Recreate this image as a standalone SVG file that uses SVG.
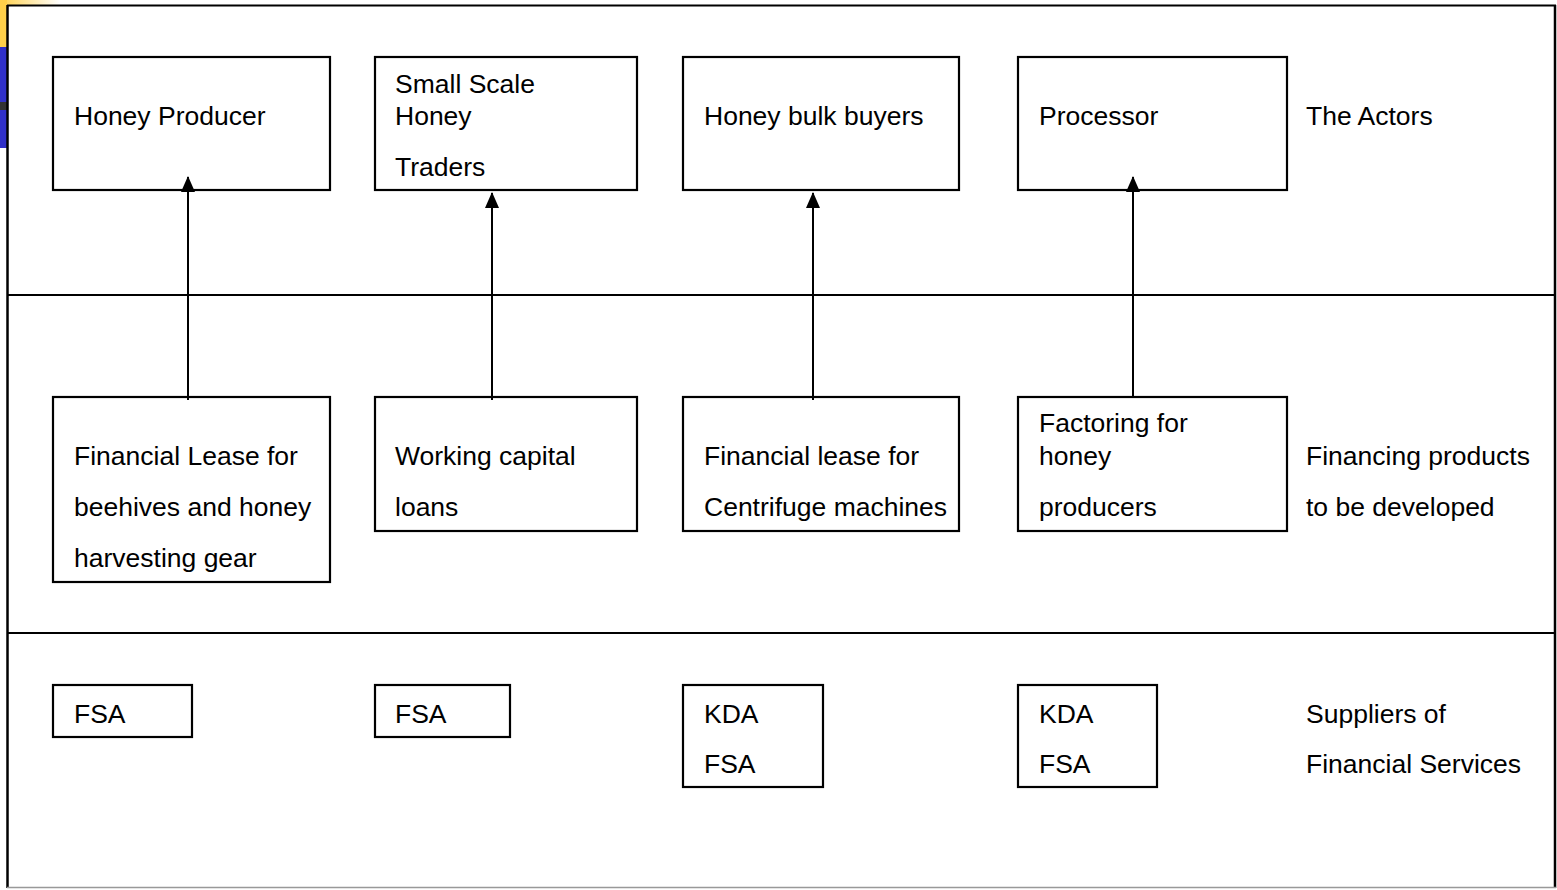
<svg xmlns="http://www.w3.org/2000/svg" width="1557" height="890" viewBox="0 0 1557 890">
  <defs>
    <linearGradient id="topFade" x1="0" y1="0" x2="1" y2="0">
      <stop offset="0" stop-color="#ffd04a"/>
      <stop offset="1" stop-color="#ffffff"/>
    </linearGradient>
    <marker id="arrow" markerWidth="16" markerHeight="14" refX="15" refY="7" orient="auto" markerUnits="userSpaceOnUse" viewBox="0 0 16 14">
      <path d="M0,0 L16,7 L0,14 Z" fill="#000"/>
    </marker>
  </defs>
  <style>
    .box { fill: #fff; stroke: #000; stroke-width: 2.2; }
    .rule { stroke: #000; stroke-width: 2.2; fill: none; }
    .conn { stroke: #000; stroke-width: 2; fill: none; }
    text { font-family: "Liberation Sans", Arial, sans-serif; font-size: 26.5px; fill: #000; }
  </style>

  <rect x="0" y="0" width="1557" height="890" fill="#fff"/>

  <!-- slide decoration at the left edge -->
  <rect x="0" y="0" width="60" height="5" fill="url(#topFade)"/>
  <rect x="0" y="0" width="7" height="47" fill="#ffd04a"/>
  <rect x="0" y="47" width="7" height="101" fill="#3030c8"/>
  <rect x="0" y="102" width="7" height="8" fill="#333"/>

  <!-- outer frame and band dividers -->
  <g id="frame">
    <line x1="7" y1="5.5" x2="1556" y2="5.5" stroke="#000" stroke-width="2.2"/>
    <line x1="7.5" y1="5" x2="7.5" y2="888" stroke="#000" stroke-width="2.5"/>
    <line x1="1555" y1="5" x2="1555" y2="888" stroke="#000" stroke-width="2.5"/>
    <line x1="7" y1="887.5" x2="1556" y2="887.5" stroke="#999" stroke-width="1.5"/>
    <line class="rule" x1="7" y1="295" x2="1556" y2="295"/>
    <line class="rule" x1="7" y1="633" x2="1556" y2="633"/>
  </g>

  <!-- row labels -->
  <g id="label-actors"><text x="1306" y="125">The Actors</text></g>
  <g id="label-products">
    <text x="1306" y="465">Financing products</text>
    <text x="1306" y="516">to be developed</text>
  </g>
  <g id="label-suppliers">
    <text x="1306" y="723">Suppliers of</text>
    <text x="1306" y="773">Financial Services</text>
  </g>

  <!-- actors -->
  <g id="honey-producer">
    <rect class="box" x="53" y="57" width="277" height="133"/>
    <text x="74" y="125">Honey Producer</text>
  </g>
  <g id="small-scale-traders">
    <rect class="box" x="375" y="57" width="262" height="133"/>
    <text x="395" y="93">Small Scale</text>
    <text x="395" y="125">Honey</text>
    <text x="395" y="176">Traders</text>
  </g>
  <g id="bulk-buyers">
    <rect class="box" x="683" y="57" width="276" height="133"/>
    <text x="704" y="125">Honey bulk buyers</text>
  </g>
  <g id="processor">
    <rect class="box" x="1018" y="57" width="269" height="133"/>
    <text x="1039" y="125">Processor</text>
  </g>

  <!-- financing products -->
  <g id="lease-beehives">
    <rect class="box" x="53" y="397" width="277" height="185"/>
    <text x="74" y="465">Financial Lease for</text>
    <text x="74" y="516">beehives and honey</text>
    <text x="74" y="567">harvesting gear</text>
  </g>
  <g id="working-capital">
    <rect class="box" x="375" y="397" width="262" height="134"/>
    <text x="395" y="465">Working capital</text>
    <text x="395" y="516">loans</text>
  </g>
  <g id="lease-centrifuge">
    <rect class="box" x="683" y="397" width="276" height="134"/>
    <text x="704" y="465">Financial lease for</text>
    <text x="704" y="516">Centrifuge machines</text>
  </g>
  <g id="factoring">
    <rect class="box" x="1018" y="397" width="269" height="134"/>
    <text x="1039" y="432">Factoring for</text>
    <text x="1039" y="465">honey</text>
    <text x="1039" y="516">producers</text>
  </g>

  <!-- suppliers -->
  <g id="supplier-1">
    <rect class="box" x="53" y="685" width="139" height="52"/>
    <text x="74" y="723">FSA</text>
  </g>
  <g id="supplier-2">
    <rect class="box" x="375" y="685" width="135" height="52"/>
    <text x="395" y="723">FSA</text>
  </g>
  <g id="supplier-3">
    <rect class="box" x="683" y="685" width="140" height="102"/>
    <text x="704" y="723">KDA</text>
    <text x="704" y="773">FSA</text>
  </g>
  <g id="supplier-4">
    <rect class="box" x="1018" y="685" width="139" height="102"/>
    <text x="1039" y="723">KDA</text>
    <text x="1039" y="773">FSA</text>
  </g>

  <!-- connectors: each product points up to its actor -->
  <g id="connectors">
    <line class="conn" x1="188" y1="400" x2="188" y2="177" marker-end="url(#arrow)"/>
    <line class="conn" x1="492" y1="400" x2="492" y2="193" marker-end="url(#arrow)"/>
    <line class="conn" x1="813" y1="400" x2="813" y2="193" marker-end="url(#arrow)"/>
    <line class="conn" x1="1133" y1="397" x2="1133" y2="177" marker-end="url(#arrow)"/>
  </g>
</svg>
